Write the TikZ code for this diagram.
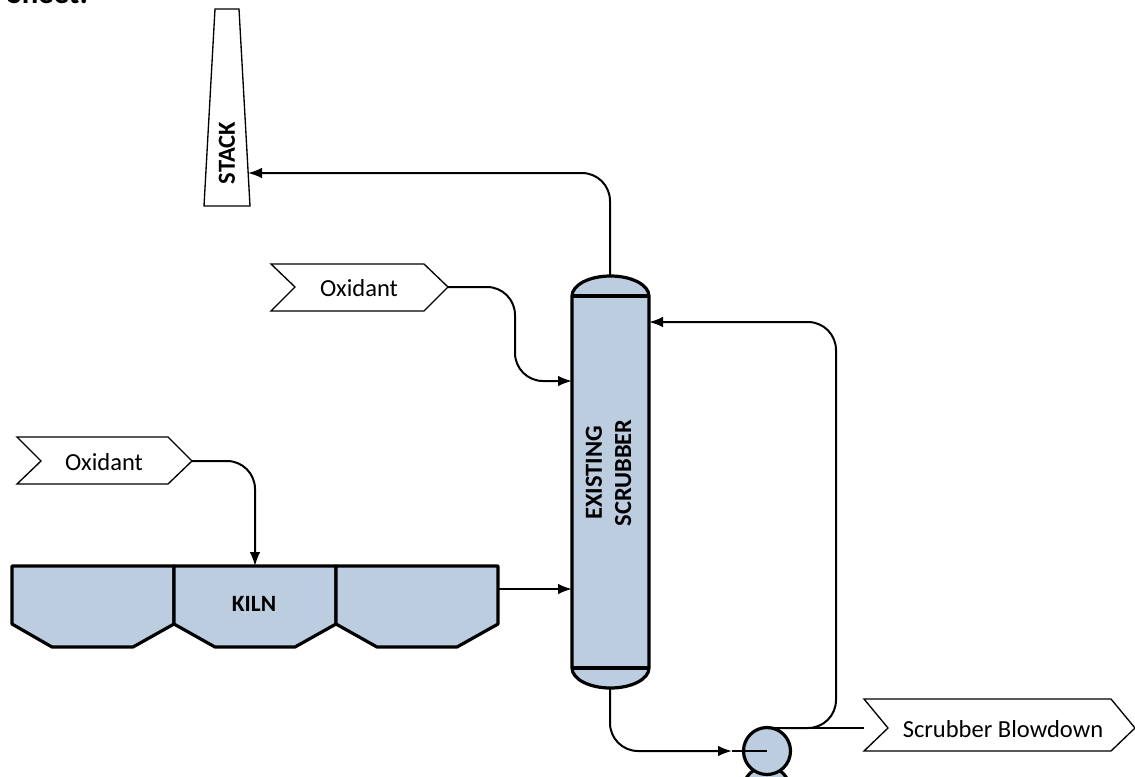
\documentclass[tikz,border=0pt]{standalone}
\usepackage{fontspec}
\setmainfont{Carlito}
\usetikzlibrary{arrows.meta}
\definecolor{fillb}{HTML}{BCCDE0}
\tikzset{
 vessel/.style={draw=black,fill=fillb,line width=2.4pt,line join=round},
 thin outline/.style={draw=black,fill=white,line width=1pt,line join=miter},
 pipe/.style={draw=black,line width=1.5pt,rounded corners=21pt,-{Latex[length=10.5pt,width=8pt]}},
 lbl/.style={inner sep=0pt,font=\fontsize{18.4pt}{22pt}\selectfont},
 blbl/.style={inner sep=0pt,font=\fontsize{18.4pt}{22pt}\selectfont\bfseries,align=center}
}
\begin{document}
\begin{tikzpicture}[x=0.75pt,y=-0.75pt]
\useasboundingbox (0,0) rectangle (1135,776);
\begin{scope}
\clip (0,0) rectangle (1135,776);
\node[anchor=base west,lbl,font=\fontsize{23pt}{26pt}\selectfont\bfseries] (sheet) at (7,3) {Sheet:};
% stack
\draw[thin outline] (215,9) -- (239,9) -- (250,206) -- (204,206) -- cycle;
\coordinate (stackin) at (248,173);
\node[blbl,rotate=90] (stack) at (227,153) {STACK};
% oxidants
\draw[thin outline] (271,264) -- (424,264) -- (448,287) -- (424,311) -- (271,311) -- (295,287) -- cycle;
\coordinate (ox1) at (448,287);
\node[lbl] (oxl1) at (359,288) {Oxidant};
\draw[thin outline] (17,437) -- (168,437) -- (192,461) -- (168,484) -- (17,484) -- (41,461) -- cycle;
\coordinate (ox2) at (192,461);
\node[lbl] (oxl2) at (104,462) {Oxidant};
\draw[thin outline] (864,699) -- (1111,699) -- (1135,728) -- (1111,751) -- (864,751) -- (888,728) -- cycle;
\coordinate (blow) at (864,728);
\node[lbl] (blowl) at (1003,729) {Scrubber Blowdown};
% kiln
\draw[vessel] (12,566) -- (174,566) -- (174,624) -- (133,647) -- (52,647) -- (12,624) -- cycle;
\draw[vessel] (174,566) -- (336,566) -- (336,624) -- (295,647) -- (215,647) -- (174,624) -- cycle;
\draw[vessel] (336,566) -- (498,566) -- (498,624) -- (457,647) -- (377,647) -- (336,624) -- cycle;
\coordinate (kilntop) at (255,566);
\coordinate (kilnout) at (498,589);
\node[blbl,font=\fontsize{17.5pt}{22pt}\selectfont\bfseries] (kiln) at (254,604) {KILN};
% scrubber
\draw[vessel] (572,296) arc[start angle=180,end angle=360,x radius=38.5,y radius=20] -- (649,668) arc[start angle=0,end angle=180,x radius=38.5,y radius=20] -- cycle;
\draw[vessel] (572,296) -- (649,296);
\draw[vessel] (572,668) -- (649,668);
\coordinate (sctop) at (610,276);
\coordinate (scbot) at (610,688);
\coordinate (scin1) at (572,381);
\coordinate (scin2) at (572,589);
\coordinate (scret) at (649,322);
\node[blbl,rotate=90] (scl) at (608.5,473) {EXISTING\\SCRUBBER};
% pump
\draw[vessel] (766.5,790) circle[radius=23.5];
\draw[vessel] (767,751) circle[radius=23.5];
\draw[line width=2.2pt] (732,751) -- (767,751);
\coordinate (pumpin) at (732,751);
\coordinate (pumptop) at (767,728);
% connectors
\draw[pipe] (sctop) -- (610,173) -- (stackin);
\draw[pipe] (ox1) -- (515,287) -- (515,381) -- (scin1);
\draw[pipe] (ox2) -- (255,461) -- (kilntop);
\draw[pipe] (kilnout) -- (scin2);
\draw[pipe] (scbot) -- (610,751) -- (pumpin);
\draw[pipe] (pumptop) -- (836,728) -- (836,322) -- (scret);
\draw[line width=1.5pt] (pumptop) -- (blow);
\end{scope}
\end{tikzpicture}
\end{document}
